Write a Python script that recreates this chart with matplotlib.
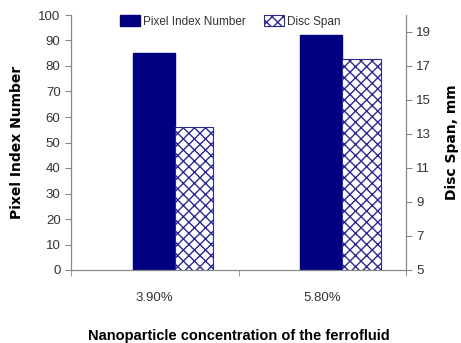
import matplotlib.pyplot as plt
import numpy as np

# concentrations and measured values
concentrations = ['3.90%', '5.80%']
pixel_index = [85, 92]
disc_span = [13.4, 17.4]

plt.rcParams['font.family'] = ['Liberation Sans', 'DejaVu Sans']

fig = plt.figure(figsize=(4.61, 3.43), dpi=100)
ax = fig.add_axes([71/461, 1 - 270/343, 335/461, 255/343])
ax2 = ax.twinx()

x = np.arange(len(concentrations))
b1 = ax.bar(x - 0.13, pixel_index, width=0.25, align='edge',
            color='#000080', edgecolor='#000080', label='Pixel Index Number')
b2 = ax2.bar(x + 0.12, np.array(disc_span) - 5, bottom=5, width=0.23, align='edge',
             color='white', edgecolor='#2a2a90', hatch='xxx', linewidth=0.8,
             label='Disc Span')

ax.set_xlim(-0.5, 1.5)
ax.set_ylim(0, 100)
ax2.set_ylim(5, 20)
ax.set_yticks(np.arange(0, 101, 10))
ax2.set_yticks(np.arange(5, 20, 2))

ax.set_xticks(x)
ax.set_xticklabels(concentrations)
ax.set_xticks([-0.5, 0.5, 1.5], minor=True)
ax.tick_params(axis='x', which='major', length=0, pad=16, labelsize=9.5, labelcolor='#333333')
ax.tick_params(axis='x', which='minor', length=4, color='#888888')
ax.tick_params(axis='y', length=4, color='#888888', labelsize=9.5, labelcolor='#333333')
ax2.tick_params(axis='y', length=4, color='#888888', labelsize=9.5, labelcolor='#333333')

for a in (ax, ax2):
    a.spines['top'].set_visible(False)
    for s in ('left', 'right', 'bottom'):
        a.spines[s].set_color('#888888')

ax.set_xlabel('Nanoparticle concentration of the ferrofluid', fontsize=10.5,
              fontweight='bold', labelpad=18)
ax.set_ylabel('Pixel Index Number', fontsize=10, fontweight='bold',
              family='DejaVu Sans', labelpad=10)
ax2.set_ylabel('Disc Span, mm', fontsize=10, fontweight='bold',
               family='DejaVu Sans', labelpad=10)

ax2.legend([b1, b2], ['Pixel Index Number', 'Disc Span'], loc='upper left',
           bbox_to_anchor=(0.115, 1.04), ncol=2, frameon=False, fontsize=8.5,
           handlelength=1.7, handleheight=1.0, handletextpad=0.2, columnspacing=1.6,
           labelcolor='#333333')

fig.savefig('out.png', dpi=100)
